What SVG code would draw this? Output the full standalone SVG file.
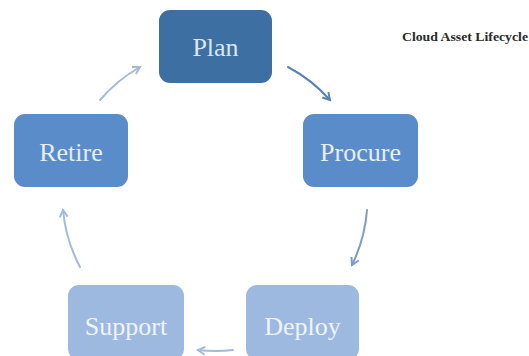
<svg xmlns="http://www.w3.org/2000/svg" width="529" height="356" viewBox="0 0 529 356">
<style>
.box{stroke:none}
.lbl{font-family:"Liberation Serif","Times New Roman",serif;font-size:26px;text-anchor:middle}
.edge{fill:none;stroke-width:2;stroke-linecap:round}
</style>
<defs>
<marker id="ah1" markerWidth="10" markerHeight="10" refX="8" refY="5" orient="auto" markerUnits="userSpaceOnUse"><path d="M1,1 L8,5 L1,9" fill="none" stroke="#5a80b6" stroke-width="2"/></marker>
<marker id="ah2" markerWidth="10" markerHeight="10" refX="8" refY="5" orient="auto" markerUnits="userSpaceOnUse"><path d="M1,1 L8,5 L1,9" fill="none" stroke="#7b9bcb" stroke-width="2"/></marker>
<marker id="ah3" markerWidth="10" markerHeight="10" refX="8" refY="5" orient="auto" markerUnits="userSpaceOnUse"><path d="M1,1 L8,5 L1,9" fill="none" stroke="#a3badc" stroke-width="2"/></marker>
</defs>
<rect width="529" height="356" fill="#ffffff"/>
<text x="402" y="41" font-family="Liberation Serif,serif" font-size="12" font-weight="bold" fill="#2a2a2a" textLength="126" lengthAdjust="spacingAndGlyphs">Cloud Asset Lifecycle</text>
<g id="connectors">
<path class="edge" d="M288,67 A151,151 0 0 1 330,100" stroke="#5a80b6" marker-end="url(#ah1)"/>
<path class="edge" d="M367,210 A151,151 0 0 1 352,265" stroke="#7b9bcb" marker-end="url(#ah2)"/>
<path class="edge" d="M233,350 A151,151 0 0 1 198,350" stroke="#a3badc" marker-end="url(#ah3)"/>
<path class="edge" d="M80,267 A151,151 0 0 1 63,210" stroke="#a3badc" marker-end="url(#ah3)"/>
<path class="edge" d="M100,100 A151,151 0 0 1 140,67" stroke="#a3badc" marker-end="url(#ah3)"/>
</g>
<g id="plan">
<rect class="box" x="159" y="10" width="113" height="73" rx="11" fill="#3e6fa3"/>
<text class="lbl" x="215.5" y="56" fill="#d9e6f4">Plan</text>
</g>
<g id="procure">
<rect class="box" x="303" y="114" width="115" height="73" rx="11" fill="#5b8cca"/>
<text class="lbl" x="360.5" y="161" fill="#e6eef8">Procure</text>
</g>
<g id="deploy">
<rect class="box" x="246" y="285" width="113" height="75" rx="11" fill="#9db9df"/>
<text class="lbl" x="302.5" y="335" fill="#eef3fa">Deploy</text>
</g>
<g id="support">
<rect class="box" x="68" y="285" width="116" height="75" rx="11" fill="#9db9df"/>
<text class="lbl" x="126" y="335" fill="#eef3fa">Support</text>
</g>
<g id="retire">
<rect class="box" x="14" y="114" width="114" height="73" rx="11" fill="#5b8cca"/>
<text class="lbl" x="71" y="161" fill="#e6eef8">Retire</text>
</g>
</svg>
